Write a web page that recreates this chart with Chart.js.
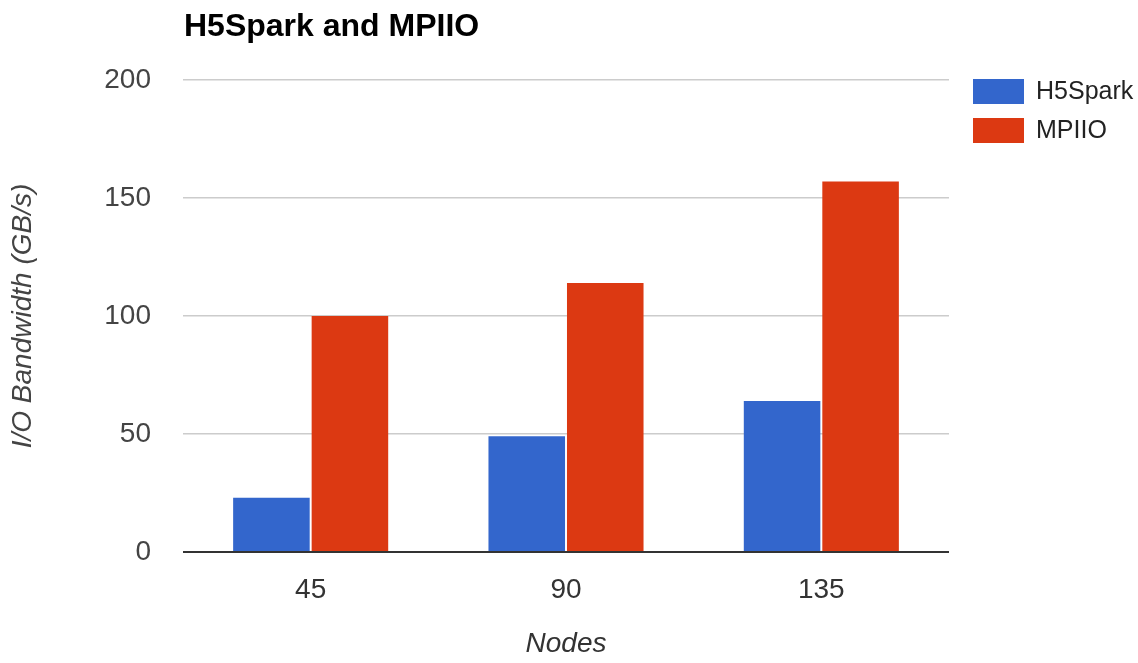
<!DOCTYPE html>
<html lang="en">
<head>
  <meta charset="UTF-8">
  <title>H5Spark and MPIIO</title>
  <script src="https://cdn.jsdelivr.net/npm/chart.js"></script>
  <style>
    html, body {
      margin: 0;
      padding: 0;
      background: #fff;
    }
    #wrap {
      position: relative;
      width: 1138px;
      height: 663px;
    }
  </style>
</head>
<body>
  <div id="wrap">
    <canvas id="chart" width="1138" height="663"></canvas>
  </div>

  <script>
    // chart data
    const chartTitle = 'H5Spark and MPIIO';
    const nodes = ['45', '90', '135'];
    const seriesNames = ['H5Spark', 'MPIIO'];
    const h5sparkBandwidth = [23, 49, 64];
    const mpiioBandwidth = [100, 114, 157];
    const yTicks = [0, 50, 100, 150, 200];
    const seriesColors = ['#3366cc', '#dc3912'];

    const FONT = '"Liberation Sans", Arial, sans-serif';

    // title + legend drawn by hand so they land where the original has them
    const titleLegend = {
      id: 'titleLegend',
      afterDraw(chart) {
        const c = chart.ctx;
        c.save();
        c.fillStyle = '#000';
        c.font = 'bold 32px ' + FONT;
        c.textBaseline = 'alphabetic';
        c.textAlign = 'left';
        c.fillText(chartTitle, 184, 36);

        chart.data.datasets.forEach((ds, i) => {
          const y = 79 + i * 39;
          c.fillStyle = ds.backgroundColor;
          c.fillRect(973, y, 51, 25);
          c.fillStyle = '#222';
          c.font = '25px ' + FONT;
          c.textBaseline = 'middle';
          c.fillText(ds.label, 1036, y + 13);
        });
        c.restore();
      }
    };

    new Chart(document.getElementById('chart'), {
      type: 'bar',
      data: {
        labels: nodes,
        datasets: [
          { label: seriesNames[0], data: h5sparkBandwidth, backgroundColor: seriesColors[0] },
          { label: seriesNames[1], data: mpiioBandwidth, backgroundColor: seriesColors[1] }
        ]
      },
      options: {
        responsive: false,
        animation: false,
        layout: { padding: { top: 80, right: 189, left: 0, bottom: 0 } },
        datasets: {
          bar: { categoryPercentage: 0.615, barPercentage: 0.975 }
        },
        plugins: {
          legend: { display: false },
          title: { display: false },
          tooltip: { enabled: false }
        },
        scales: {
          x: {
            grid: { display: false, drawTicks: false },
            border: { display: false },
            ticks: {
              color: '#333',
              font: { family: FONT, size: 28 },
              padding: 21
            },
            title: {
              display: true,
              text: 'Nodes',
              color: '#333',
              font: { family: FONT, size: 28, style: 'italic' },
              padding: { top: 0, bottom: 2 }
            },
            afterFit(axis) { axis.height = 111; }
          },
          y: {
            min: 0,
            max: 200,
            afterBuildTicks(axis) { axis.ticks = yTicks.map(v => ({ value: v })); },
            grid: {
              drawTicks: false,
              lineWidth: (ctx) => ctx.tick && ctx.tick.value === 0 ? 2 : 1.5,
              color: (ctx) => ctx.tick && ctx.tick.value === 0 ? '#333' : '#cccccc'
            },
            border: { display: false },
            ticks: {
              color: '#444',
              font: { family: FONT, size: 28 },
              padding: 32
            },
            title: {
              display: true,
              text: 'I/O Bandwidth (GB/s)',
              color: '#444',
              font: { family: FONT, size: 28, style: 'italic' },
              padding: { top: 6, bottom: 0 }
            },
            afterFit(axis) { axis.width = 183; }
          }
        }
      },
      plugins: [titleLegend]
    });
  </script>
</body>
</html>
